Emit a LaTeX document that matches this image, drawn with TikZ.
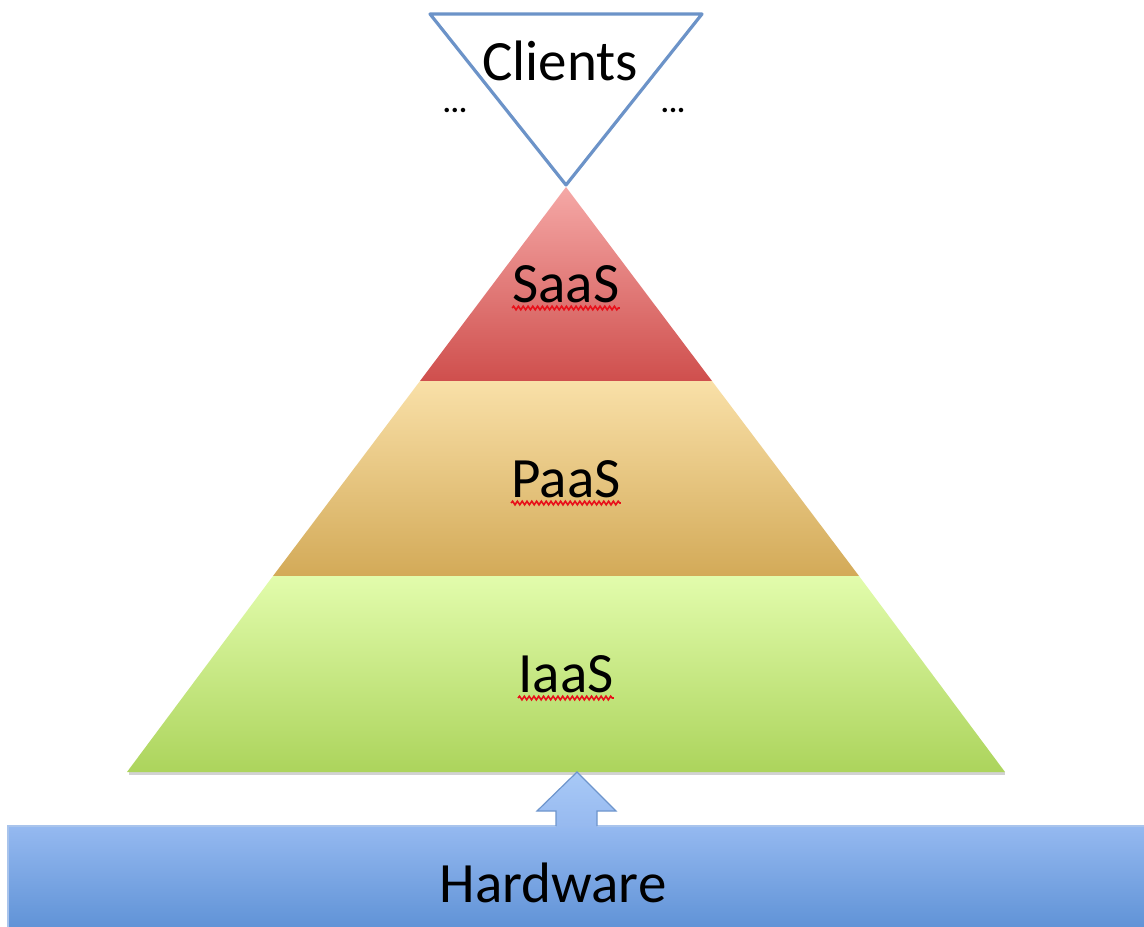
\documentclass[tikz,border=0pt]{standalone}
\usepackage{fontspec}
\setmainfont{Carlito}
\usetikzlibrary{decorations.pathmorphing,calc}
\definecolor{clientline}{HTML}{6C93C8}
\definecolor{saasTop}{HTML}{F5A8A6}
\definecolor{saasBot}{HTML}{CF4F4D}
\definecolor{paasTop}{HTML}{F9E0A8}
\definecolor{paasBot}{HTML}{D3AA58}
\definecolor{iaasTop}{HTML}{E2FCAC}
\definecolor{iaasBot}{HTML}{ACD45C}
\definecolor{hwTop}{HTML}{95B9F0}
\definecolor{hwBot}{HTML}{5F92D6}
\definecolor{hwLine}{HTML}{A9C4EC}
\definecolor{arrTop}{HTML}{A8C9F7}
\definecolor{arrBot}{HTML}{96B9EF}
\definecolor{arrLine}{HTML}{6E95CC}
\definecolor{spellred}{HTML}{E8101A}
\begin{document}
\begin{tikzpicture}[x=0.5pt,y=-0.5pt,
  lbl/.style={font=\fontsize{28.5}{32}\selectfont, anchor=base, inner sep=0pt, text=black},
  dots/.style={font=\fontsize{15}{17}\selectfont\bfseries, anchor=base, inner sep=0pt, text=black},
  spell/.style={spellred, line width=0.8pt, decorate, decoration={snake, amplitude=0.9pt, segment length=2.4pt}}]
\useasboundingbox (0,0) rectangle (1144,926);
% Clients inverted triangle
\draw[clientline, line width=1.6pt, line join=round] (430,14) -- (702,14) -- (566,185) -- cycle;
\node[lbl] (clients) at (560,80) {Clients};
\node[dots] (dl) at (455,112) {...};
\node[dots] (dr) at (673,112) {...};
% pyramid layers
\shade[top color=saasTop, bottom color=saasBot] (566,187) -- (712,381) -- (420,381) -- cycle;
\shade[top color=paasTop, bottom color=paasBot] (420,381) -- (712,381) -- (859,576) -- (273,576) -- cycle;
\draw[black!35, opacity=0.5, line width=1.2pt] (129,773.5) -- (1005,773.5);
\shade[top color=iaasTop, bottom color=iaasBot] (273,576) -- (859,576) -- (1005,772) -- (127,772) -- cycle;
\node[lbl] (saas) at (566,302) {SaaS};
\node[lbl] (paas) at (566,497) {PaaS};
\node[lbl] (iaas) at (566,692) {IaaS};
\draw[spell] ($(saas.base west)+(0,6)$) -- ($(saas.base east)+(0,6)$);
\draw[spell] ($(paas.base west)+(0,6)$) -- ($(paas.base east)+(0,6)$);
\draw[spell] ($(iaas.base west)+(0,6)$) -- ($(iaas.base east)+(0,6)$);
% hardware box
\shade[top color=hwTop, bottom color=hwBot, draw=hwLine, line width=0.6pt] (8,826) rectangle (1150,930);
\node[lbl] (hw) at (553,902) {Hardware};
% block arrow
\shade[top color=arrTop, bottom color=arrBot] (577,772) -- (616,811) -- (597,811) -- (597,827.5) -- (556,827.5) -- (556,811) -- (537,811) -- cycle;
\draw[arrLine, line width=0.6pt, line join=miter] (556,826) -- (556,811) -- (537,811) -- (577,772) -- (616,811) -- (597,811) -- (597,826);
\end{tikzpicture}
\end{document}
